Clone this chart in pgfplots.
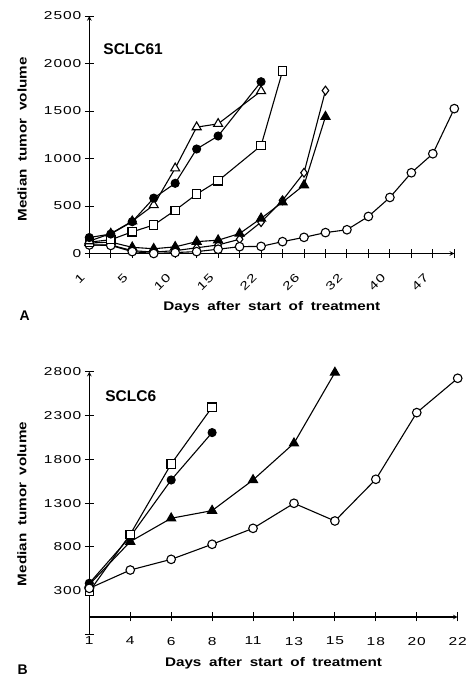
\documentclass[border=0pt]{standalone}
\usepackage{fontspec}
\usepackage{pgfplots}
\pgfplotsset{compat=1.18}
\setmainfont{Liberation Sans}
\newfontfamily\tickfont[FakeStretch=1.35,LetterSpace=8]{Liberation Sans}
\newfontfamily\labfont[FakeStretch=1.22,WordSpace=1.8]{Liberation Sans}
\pgfplotsset{
  common/.style={
    scale only axis,
    /pgf/number format/assume math mode=true,
    axis line style={-, line width=1.1pt},
    tick style={line width=1pt, black},
    major tick length=9pt,
    tick align=center,
    ticklabel style={font=\tickfont\fontsize{11.5}{12}\selectfont},
    clip=false,
  },
  base/.style={black, line width=1.1pt, mark options={solid, line width=0.9pt}},
  fc/.style={base, mark=*, mark size=4pt, mark options={fill=black}},
  oc/.style={base, mark=*, mark size=4.3pt, mark options={fill=white}},
  sq/.style={base, mark=square*, mark size=4.2pt, mark options={fill=white}},
  ot/.style={base, mark=triangle*, mark size=5.2pt, mark options={fill=white}},
  ft/.style={base, mark=triangle*, mark size=5.2pt, mark options={fill=black}},
  od/.style={base, mark=diamond*, mark size=4.4pt, mark options={fill=white}},
}
\newcommand{\labf}{\labfont\bfseries\fontsize{12.5}{13}\selectfont}
\begin{document}
\begin{tikzpicture}
\useasboundingbox (0pt,0pt) rectangle (469pt,-677pt);
% ---------------- Panel A ----------------
\begin{axis}[common,
  at={(89.3pt,-253.5pt)}, anchor=south west,
  width=365pt, height=237.5pt,
  xmin=0, xmax=17, ymin=0, ymax=2500,
  axis lines=left,
  xtick={0,...,17},
  xticklabels={1,,5,,10,,15,,22,,26,,32,,40,,47,,},
  xticklabel style={xshift=-4pt, yshift=-15pt, rotate=45, anchor=east},
  ytick={0,500,1000,1500,2000,2500},
  yticklabels={0,500,1000,1500,2000,2500},
  xlabel={Days after start of treatment},
  ylabel={Median tumor volume},
  every axis x label/.style={at={(axis description cs:0.5,-0.225)}, anchor=center, font=\labf},
  every axis y label/.style={at={(axis description cs:-0.184,0.48)}, rotate=90, anchor=center, font=\labf},
]
\addplot[od] coordinates {(0,90)(1,90)(2,30)(3,15)(4,30)(5,60)(6,90)(7,150)(8,330)(9,560)(10,850)(11,1715)};
\addplot[ft] coordinates {(0,110)(1,120)(2,65)(3,50)(4,70)(5,125)(6,140)(7,210)(8,370)(9,540)(10,720)(11,1440)};
\addplot[oc] coordinates {(0,90)(1,85)(2,20)(3,0)(4,10)(5,20)(6,45)(7,72)(8,75)(9,125)(10,170)(11,220)(12,250)(13,390)(14,590)(15,850)(16,1050)(17,1525)};
\addplot[sq] coordinates {(0,120)(1,145)(2,228)(3,300)(4,455)(5,625)(6,765)(8,1135)(9,1920)};
\addplot[ot] coordinates {(0,130)(1,210)(2,340)(3,510)(4,897)(5,1330)(6,1365)(8,1710)};
\addplot[fc] coordinates {(0,168)(1,205)(2,335)(3,583)(4,739)(5,1100)(6,1237)(8,1808)};
\node[anchor=base west, font=\bfseries\fontsize{15.5}{16}\selectfont] at (rel axis cs:0.029,0.84) {SCLC61};
\end{axis}
\node[anchor=base west, font=\bfseries\fontsize{14}{14}\selectfont] at (16pt,-320pt) {A};
% ---------------- Panel B ----------------
\begin{axis}[common,
  at={(89.3pt,-634.5pt)}, anchor=south west,
  width=368.4pt, height=262.8pt,
  xmin=0, xmax=9, ymin=-200, ymax=2800,
  axis x line=middle, axis y line=left,
  hide obscured x ticks=false,
  xtick={0,...,9},
  xticklabels={1,4,6,8,11,13,15,18,20,22},
  xticklabel style={anchor=north, yshift=-12pt},
  ytick={-200,300,800,1300,1800,2300,2800},
  yticklabels={,300,800,1300,1800,2300,2800},
  xlabel={Days after start of treatment},
  ylabel={Median tumor volume},
  every axis x label/.style={at={(axis description cs:0.5,-0.11)}, anchor=center, font=\labf},
  every axis y label/.style={at={(axis description cs:-0.183,0.497)}, rotate=90, anchor=center, font=\labf},
]
\addplot[oc] coordinates {(0,327)(1,536)(2,658)(3,830)(4,1012)(5,1298)(6,1096)(7,1572)(8,2333)(9,2725)};
\addplot[ft] coordinates {(0,370)(1,860)(2,1127)(3,1214)(4,1564)(5,1983)(6,2790)};
\addplot[fc] coordinates {(0,385)(1,917)(2,1564)(3,2105)};
\addplot[sq] coordinates {(0,290)(1,944)(2,1747)(3,2395)};
\addplot[oc] coordinates {(0,327)};
\node[anchor=base west, font=\bfseries\fontsize{15.5}{16}\selectfont] at (rel axis cs:0.034,0.885) {SCLC6};
\end{axis}
\node[anchor=base west, font=\bfseries\fontsize{14}{14}\selectfont] at (14pt,-674pt) {B};
\end{tikzpicture}
\end{document}
